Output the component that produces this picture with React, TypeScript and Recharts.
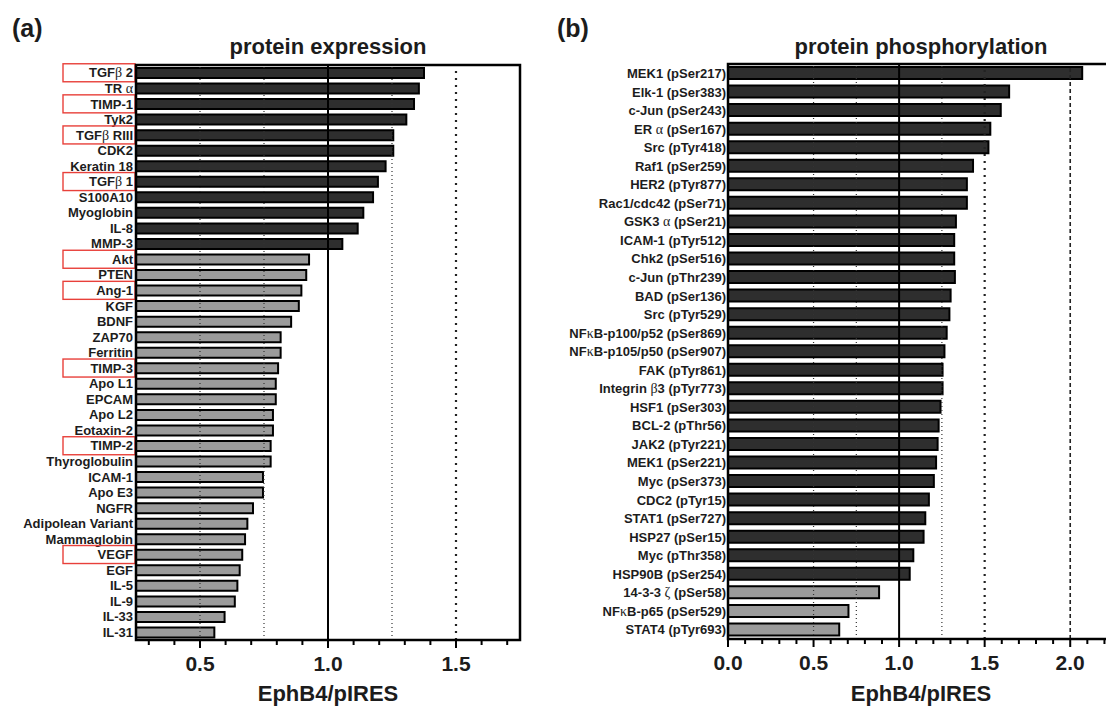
import React from 'react';
import { BarChart, Bar, XAxis, YAxis, ReferenceLine, Cell } from 'recharts';

// ---------- Panel (a): protein expression ----------
const expressionLabels = [
  'TGFβ 2', 'TR α', 'TIMP-1', 'Tyk2', 'TGFβ RIII', 'CDK2', 'Keratin 18', 'TGFβ 1',
  'S100A10', 'Myoglobin', 'IL-8', 'MMP-3', 'Akt', 'PTEN', 'Ang-1', 'KGF', 'BDNF',
  'ZAP70', 'Ferritin', 'TIMP-3', 'Apo L1', 'EPCAM', 'Apo L2', 'Eotaxin-2', 'TIMP-2',
  'Thyroglobulin', 'ICAM-1', 'Apo E3', 'NGFR', 'Adipolean Variant', 'Mammaglobin',
  'VEGF', 'EGF', 'IL-5', 'IL-9', 'IL-33', 'IL-31',
];
const expressionValues = [
  1.375, 1.355, 1.336, 1.306, 1.255, 1.255, 1.225, 1.195,
  1.176, 1.138, 1.116, 1.056, 0.926, 0.915, 0.896, 0.886, 0.856,
  0.815, 0.815, 0.805, 0.796, 0.796, 0.785, 0.785, 0.776,
  0.776, 0.746, 0.746, 0.707, 0.685, 0.676,
  0.665, 0.655, 0.646, 0.636, 0.596, 0.556,
];
const expressionGroups = [
  'up', 'up', 'up', 'up', 'up', 'up', 'up', 'up', 'up', 'up', 'up', 'up',
  'down', 'down', 'down', 'down', 'down', 'down', 'down', 'down', 'down', 'down',
  'down', 'down', 'down', 'down', 'down', 'down', 'down', 'down', 'down', 'down',
  'down', 'down', 'down', 'down', 'down',
];
const expressionHighlighted = ['TGFβ 2', 'TIMP-1', 'TGFβ RIII', 'TGFβ 1', 'Akt', 'Ang-1', 'TIMP-3', 'TIMP-2', 'VEGF'];
const expressionTicks = [0.3, 0.4, 0.5, 0.6, 0.7, 0.8, 0.9, 1.0, 1.1, 1.2, 1.3, 1.4, 1.5, 1.6, 1.7];
const expressionMajorTicks = [0.5, 1.0, 1.5];
const expressionDomain = [0.25, 1.75];
const expressionFineLines = [0.5, 0.75, 1.25];
const expressionBoldDotLines = [1.5];

// ---------- Panel (b): protein phosphorylation ----------
const phosphoLabels = [
  'MEK1 (pSer217)', 'Elk-1 (pSer383)', 'c-Jun (pSer243)', 'ER α (pSer167)', 'Src (pTyr418)',
  'Raf1 (pSer259)', 'HER2 (pTyr877)', 'Rac1/cdc42 (pSer71)', 'GSK3 α (pSer21)', 'ICAM-1 (pTyr512)',
  'Chk2 (pSer516)', 'c-Jun (pThr239)', 'BAD (pSer136)', 'Src (pTyr529)', 'NFκB-p100/p52 (pSer869)',
  'NFκB-p105/p50 (pSer907)', 'FAK (pTyr861)', 'Integrin β3 (pTyr773)', 'HSF1 (pSer303)', 'BCL-2 (pThr56)',
  'JAK2 (pTyr221)', 'MEK1 (pSer221)', 'Myc (pSer373)', 'CDC2 (pTyr15)', 'STAT1 (pSer727)',
  'HSP27 (pSer15)', 'Myc (pThr358)', 'HSP90B (pSer254)', '14-3-3 ζ (pSer58)', 'NFκB-p65 (pSer529)',
  'STAT4 (pTyr693)',
];
const phosphoValues = [
  2.07, 1.643, 1.594, 1.533, 1.522,
  1.432, 1.396, 1.396, 1.332, 1.322,
  1.322, 1.326, 1.301, 1.294, 1.278,
  1.265, 1.254, 1.254, 1.242, 1.231,
  1.225, 1.216, 1.203, 1.174, 1.153,
  1.143, 1.083, 1.062, 0.883, 0.704,
  0.65,
];
const phosphoGroups = [
  'up', 'up', 'up', 'up', 'up', 'up', 'up', 'up', 'up', 'up', 'up', 'up', 'up', 'up',
  'up', 'up', 'up', 'up', 'up', 'up', 'up', 'up', 'up', 'up', 'up', 'up', 'up', 'up',
  'down', 'down', 'down',
];
const phosphoTicks = [0, 0.1, 0.2, 0.3, 0.4, 0.5, 0.6, 0.7, 0.8, 0.9, 1.0, 1.1, 1.2, 1.3, 1.4, 1.5, 1.6, 1.7, 1.8, 1.9, 2.0, 2.1, 2.2];
const phosphoMajorTicks = [0, 0.5, 1.0, 1.5, 2.0];
const phosphoDomain = [0, 2.25];
const phosphoFineLines = [0.5, 0.75, 1.25];
const phosphoBoldDotLines = [1.5];
const phosphoDashedLines = [2.0];

const FONT = '"Liberation Sans", Arial, Helvetica, sans-serif';
const DARK = '#2e2e2e';
const LIGHT = '#9b9b9b';
const TEXT = '#1c1c1c';

const X_AXIS_HEIGHT = 60;
const CHART_HEIGHT = 706;

const LEFT_PANEL = { offsetX: 0, width: 540, margin: { top: 65, right: 20, bottom: 6, left: 0 }, yWidth: 136 };
const RIGHT_PANEL = { offsetX: 540, width: 580, margin: { top: 64, right: 7, bottom: 7, left: 0 }, yWidth: 188 };

function frameOf(p: typeof LEFT_PANEL) {
  const x = p.offsetX + p.margin.left + p.yWidth;
  const y = p.margin.top;
  const w = p.width - p.margin.right - p.margin.left - p.yWidth;
  const h = CHART_HEIGHT - p.margin.bottom - X_AXIS_HEIGHT - p.margin.top;
  return { x, y, w, h };
}

const GREEK = /([\u0391-\u03A9\u03B1-\u03C9])/;

function renderLabel(text: string) {
  return text
    .split(GREEK)
    .filter((s) => s !== '')
    .map((part, i) =>
      GREEK.test(part) ? (
        <tspan key={i} fontFamily='"Liberation Serif", "DejaVu Serif", serif' fontWeight="normal" fontSize={14}>
          {part}
        </tspan>
      ) : (
        <tspan key={i}>{part}</tspan>
      )
    );
}

const CategoryTick = (props: any) => {
  const { x, y, payload, highlights } = props;
  const label = String(payload.value);
  const hl = highlights && highlights.includes(label);
  return (
    <g>
      {hl && (
        <rect x={x - 70} y={y - 9} width={72} height={18} fill="none" stroke="#e8403a" strokeWidth={1.4} />
      )}
      <text
        x={x}
        y={y}
        dy="0.36em"
        textAnchor="end"
        fontSize={13}
        fontWeight="bold"
        fill={TEXT}
        fontFamily={FONT}
      >
        {renderLabel(label)}
      </text>
    </g>
  );
};

const ValueTick = (props: any) => {
  const { x, y, payload, majors } = props;
  const v = Number(payload.value);
  const major = majors.some((m: number) => Math.abs(m - v) < 1e-6);
  return (
    <g>
      <line x1={x} x2={x} y1={y} y2={y + (major ? 8 : 5)} stroke="#000" strokeWidth={2} />
      {major && (
        <text x={x} y={y + 31} textAnchor="middle" fontSize={21} fontWeight="bold" fill={TEXT} fontFamily={FONT}>
          {v.toFixed(1)}
        </text>
      )}
    </g>
  );
};

type PanelProps = {
  labels: string[];
  values: number[];
  groups: string[];
  highlights: string[];
  ticks: number[];
  majors: number[];
  domain: number[];
  fineLines: number[];
  boldLines: number[];
  dashedLines: number[];
  layoutSpec: typeof LEFT_PANEL;
  barSize: number;
  labelGap: number;
};

function Panel(props: PanelProps) {
  const data = props.labels.map((name, i) => ({ name, value: props.values[i], group: props.groups[i] }));
  const L = props.layoutSpec;
  return (
    <BarChart
      width={L.width}
      height={CHART_HEIGHT}
      data={data}
      layout="vertical"
      margin={L.margin}
      barCategoryGap={0}
    >
      <XAxis
        type="number"
        domain={props.domain}
        ticks={props.ticks}
        allowDataOverflow
        interval={0}
        height={X_AXIS_HEIGHT}
        tickSize={0}
        tickMargin={0}
        tickLine={false}
        axisLine={{ stroke: '#000', strokeWidth: 2 }}
        tick={<ValueTick majors={props.majors} />}
      />
      <YAxis
        type="category"
        dataKey="name"
        width={L.yWidth}
        interval={0}
        tickSize={0}
        tickMargin={props.labelGap}
        tickLine={false}
        axisLine={{ stroke: '#000', strokeWidth: 2 }}
        tick={<CategoryTick highlights={props.highlights} />}
      />
      {props.fineLines.map((v) => (
        <ReferenceLine key={'f' + v} x={v} stroke="#333" strokeWidth={1.2} strokeDasharray="1 3" />
      ))}
      {props.boldLines.map((v) => (
        <ReferenceLine key={'b' + v} x={v} stroke="#222" strokeWidth={2.2} strokeDasharray="2 5" />
      ))}
      {props.dashedLines.map((v) => (
        <ReferenceLine key={'d' + v} x={v} stroke="#222" strokeWidth={1.6} strokeDasharray="4 3" />
      ))}
      <ReferenceLine x={1} stroke="#000" strokeWidth={2} />
      <Bar dataKey="value" barSize={props.barSize} stroke="#000" strokeWidth={2} isAnimationActive={false}>
        {data.map((d, i) => (
          <Cell key={i} fill={d.group === 'up' ? DARK : LIGHT} />
        ))}
      </Bar>
    </BarChart>
  );
}

export default function App() {
  const fa = frameOf(LEFT_PANEL);
  const fb = frameOf(RIGHT_PANEL);
  return (
    <div
      style={{
        position: 'absolute',
        left: 0,
        top: 0,
        width: 1106,
        height: 706,
        overflow: 'hidden',
        background: '#fff',
        fontFamily: FONT,
      }}
    >
      <div style={{ position: 'absolute', left: LEFT_PANEL.offsetX, top: 0 }}>
        <Panel
          labels={expressionLabels}
          values={expressionValues}
          groups={expressionGroups}
          highlights={expressionHighlighted}
          ticks={expressionTicks}
          majors={expressionMajorTicks}
          domain={expressionDomain}
          fineLines={expressionFineLines}
          boldLines={expressionBoldDotLines}
          dashedLines={[]}
          layoutSpec={LEFT_PANEL}
          barSize={10}
          labelGap={3}
        />
      </div>
      <div style={{ position: 'absolute', left: RIGHT_PANEL.offsetX, top: 0 }}>
        <Panel
          labels={phosphoLabels}
          values={phosphoValues}
          groups={phosphoGroups}
          highlights={[]}
          ticks={phosphoTicks}
          majors={phosphoMajorTicks}
          domain={phosphoDomain}
          fineLines={phosphoFineLines}
          boldLines={phosphoBoldDotLines}
          dashedLines={phosphoDashedLines}
          layoutSpec={RIGHT_PANEL}
          barSize={12}
          labelGap={2}
        />
      </div>
      <svg
        width={1106}
        height={706}
        style={{ position: 'absolute', left: 0, top: 0, pointerEvents: 'none', zIndex: 5 }}
      >
        <rect x={fa.x} y={fa.y} width={fa.w} height={fa.h} fill="none" stroke="#000" strokeWidth={2.5} />
        <rect x={fb.x} y={fb.y} width={fb.w} height={fb.h} fill="none" stroke="#000" strokeWidth={2.5} />
        <g fontFamily={FONT} fontWeight="bold" fill={TEXT}>
          <text x={12} y={37} fontSize={25}>(a)</text>
          <text x={557} y={37} fontSize={25}>(b)</text>
          <text x={328} y={54} fontSize={22} textAnchor="middle">protein expression</text>
          <text x={921} y={54} fontSize={22} textAnchor="middle">protein phosphorylation</text>
          <text x={328} y={701} fontSize={22} textAnchor="middle">EphB4/pIRES</text>
          <text x={921} y={701} fontSize={22} textAnchor="middle">EphB4/pIRES</text>
        </g>
      </svg>
    </div>
  );
}
